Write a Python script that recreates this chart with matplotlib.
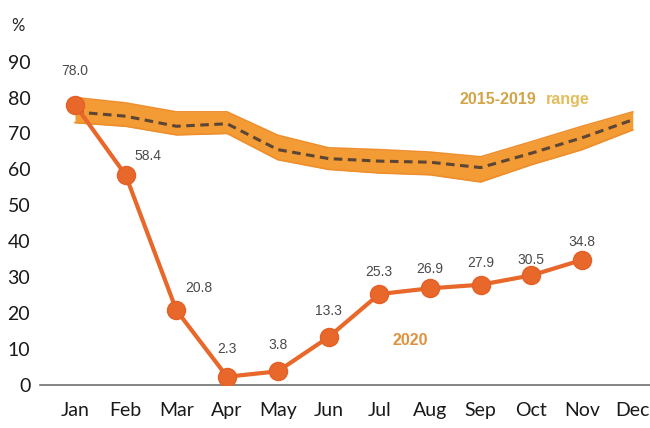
import matplotlib.pyplot as plt
import numpy as np

months = ['Jan', 'Feb', 'Mar', 'Apr', 'May', 'Jun',
          'Jul', 'Aug', 'Sep', 'Oct', 'Nov', 'Dec']

# 2020 monthly values (Jan-Nov)
values_2020 = [78.0, 58.4, 20.8, 2.3, 3.8, 13.3, 25.3, 26.9, 27.9, 30.5, 34.8]

# 2015-2019 average and range
range_mid = [76.0, 74.8, 72.0, 72.7, 65.5, 63.0, 62.3, 62.0, 60.5, 64.5, 68.8, 73.8]
range_low = [73.0, 72.0, 69.6, 70.0, 62.7, 60.0, 59.0, 58.5, 56.5, 61.3, 65.5, 71.0]
range_high = [80.0, 78.5, 76.0, 76.0, 69.5, 66.0, 65.5, 64.8, 63.5, 67.7, 72.0, 76.0]

plt.rcParams['font.family'] = ['Lato', 'DejaVu Sans']
label_font = ['Liberation Sans', 'DejaVu Sans']

fig = plt.figure(figsize=(6.5, 4.28), dpi=100)
ax = fig.add_axes([0.0615, 0.1005, 0.9385, 0.806])

x = np.arange(len(months))
x20 = np.arange(len(values_2020))

# range band with dashed average
ax.fill_between(x, range_low, range_high, color='#F39B35', linewidth=0, zorder=1)
ax.plot(x, range_low, color='#EE8E2C', lw=1.2, zorder=1)
ax.plot(x, range_high, color='#EE8E2C', lw=1.2, zorder=1)
ax.plot(x, range_mid, color='#5b4636', lw=2.2, dashes=(2.8, 1.8), zorder=2)

# 2020 line
ax.plot(x20, values_2020, color='#E8672A', lw=3, marker='o', markersize=13,
        markerfacecolor='#E8672A', markeredgecolor='#E46026', zorder=3)

# data labels (offsets in points)
offsets = [(0, 24), (16, 14), (16, 16), (0, 20), (0, 19), (0, 19),
           (0, 16), (0, 14), (0, 16), (0, 11), (0, 13)]
for i, v in enumerate(values_2020):
    dx, dy = offsets[i]
    ax.annotate(f'{v:.1f}', (i, v), xytext=(dx, dy), textcoords='offset points',
                ha='center', va='center', fontsize=10, color='#4a4a4a',
                family=label_font, zorder=4)

ax.text(7.59, 79.4, '2015-2019', color='#D2A548', fontsize=11.5, fontweight='bold',
        ha='left', va='center', family=label_font)
ax.text(9.29, 79.4, 'range', color='#E2BE5A', fontsize=11.5, fontweight='bold',
        ha='left', va='center', family=label_font)
ax.text(6.27, 12.5, '2020', color='#E0913E', fontsize=11.5, fontweight='bold',
        ha='left', va='center', family=label_font)

fig.text(0.028, 0.94, '%', fontsize=12, color='#222222', ha='center', va='center')

ax.set_xlim(-0.69, 11.34)
ax.set_ylim(0, 96)
ax.set_xticks(x)
ax.set_xticklabels(months)
ax.set_yticks(range(0, 100, 10))

for side in ['top', 'right', 'left']:
    ax.spines[side].set_visible(False)
ax.spines['bottom'].set_color('#707070')
ax.spines['bottom'].set_linewidth(1.2)
ax.tick_params(axis='both', length=0, labelsize=14, colors='#1a1a1a')
ax.tick_params(axis='x', pad=12)
ax.tick_params(axis='y', pad=7)

fig.savefig('out.png', dpi=100)
